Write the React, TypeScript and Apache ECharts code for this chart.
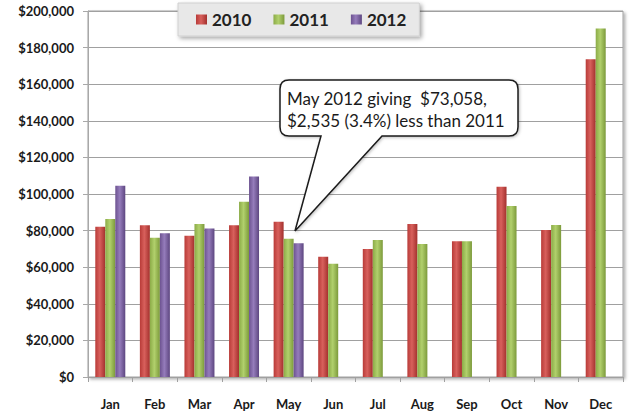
import React, { useEffect, useRef } from "react";
import * as echarts from "echarts";

const months = ["Jan", "Feb", "Mar", "Apr", "May", "Jun", "Jul", "Aug", "Sep", "Oct", "Nov", "Dec"];
const sales2010 = [82100, 82900, 77200, 82900, 84900, 65700, 70000, 83600, 74200, 104000, 80300, 173600];
const sales2011 = [86300, 76100, 83600, 95800, 75593, 61900, 74900, 72700, 74200, 93400, 83000, 190500];
const sales2012: (number | null)[] = [104500, 78500, 81200, 109500, 73058, null, null, null, null, null, null, null];
const seriesNames = ["2010", "2011", "2012"];
const calloutLines = ["May 2012 giving  $73,058,", "$2,535 (3.4%) less than 2011"];

const calloutPath =
  "M289,80 H509 Q518,80 518,89 V127 Q518,136 509,136 H382 L295,231 L321,136 H289 Q280,136 280,127 V89 Q280,80 289,80 Z";
echarts.graphic.registerShape("callout", echarts.graphic.extendPath(calloutPath, {}) as any);

function grad(dark: string, light: string, darker: string) {
  return new echarts.graphic.LinearGradient(0, 0, 1, 0, [
    { offset: 0, color: dark },
    { offset: 0.45, color: light },
    { offset: 1, color: darker },
  ]);
}

export default function App() {
  const ref = useRef<HTMLDivElement>(null);
  useEffect(() => {
    if (!ref.current) return;
    const chart = echarts.init(ref.current, null, { renderer: "svg" });
    const colors = [
      grad("#b83b38", "#d8605c", "#a3302d"),
      grad("#8bab47", "#b1d06c", "#7c9a3b"),
      grad("#6c5290", "#957cbb", "#5d4680"),
    ];
    const data = [sales2010, sales2011, sales2012];
    chart.setOption({
      animation: false,
      backgroundColor: "#ffffff",
      textStyle: { fontFamily: "Lato" },
      legend: {
        data: seriesNames,
        top: 3,
        left: 178,
        itemWidth: 11,
        itemHeight: 10,
        itemGap: 22,
        icon: "rect",
        padding: [8, 13, 8, 18],
        backgroundColor: "#e8e8e8",
        borderColor: "#d0d0d0",
        borderWidth: 1,
        shadowBlur: 4,
        shadowColor: "rgba(0,0,0,0.35)",
        shadowOffsetX: 2,
        shadowOffsetY: 2,
        textStyle: { fontFamily: "Lato", fontWeight: "bold", fontSize: 17, color: "#222" },
      },
      grid: {
        left: 88,
        right: 9,
        top: 11,
        bottom: 39,
        show: true,
        backgroundColor: "#ffffff",
        borderColor: "#a0a0a0",
        borderWidth: 1,
        shadowBlur: 3,
        shadowColor: "rgba(0,0,0,0.3)",
        shadowOffsetX: 2,
        shadowOffsetY: 2,
      },
      xAxis: {
        type: "category",
        data: months,
        axisLine: {
          lineStyle: { color: "#9a9a9a", width: 2, shadowBlur: 3, shadowColor: "rgba(0,0,0,0.4)", shadowOffsetY: 2 },
        },
        axisTick: { show: true, length: 5, lineStyle: { color: "#a0a0a0" } },
        axisLabel: { margin: 20, fontFamily: "Lato", fontWeight: "bold", fontSize: 13, color: "#1a1a1a" },
      },
      yAxis: {
        type: "value",
        min: 0,
        max: 200000,
        interval: 20000,
        axisLine: { show: true, lineStyle: { color: "#a8a8a8" } },
        axisTick: { show: true, length: 5, lineStyle: { color: "#a8a8a8" } },
        splitLine: { lineStyle: { color: "#a0a0a0", width: 1 } },
        axisLabel: {
          margin: 14,
          fontFamily: "Lato",
          fontWeight: "bold",
          fontSize: 13,
          color: "#1a1a1a",
          formatter: (v: number) => "$" + v.toLocaleString("en-US"),
        },
      },
      series: seriesNames.map((name, i) => ({
        name,
        type: "bar",
        data: data[i],
        barWidth: 10,
        barGap: "0%",
        itemStyle: { color: colors[i] },
      })),
      graphic: [
        {
          type: "callout",
          x: 0,
          y: 0,
          z: 100,
          style: {
            fill: "#ffffff",
            stroke: "#1a1a1a",
            lineWidth: 1.5,
            shadowBlur: 3,
            shadowColor: "rgba(0,0,0,0.25)",
            shadowOffsetX: 1,
            shadowOffsetY: 1,
          },
        },
        {
          type: "text",
          x: 287,
          y: 87,
          z: 101,
          style: {
            text: calloutLines.join("\n"),
            fontFamily: "Lato",
            fontSize: 17,
            lineHeight: 22,
            fill: "#1a1a1a",
          },
        },
      ],
    });
    return () => chart.dispose();
  }, []);
  return <div ref={ref} style={{ width: 632, height: 416, position: "absolute", left: 0, top: 0 }} />;
}
